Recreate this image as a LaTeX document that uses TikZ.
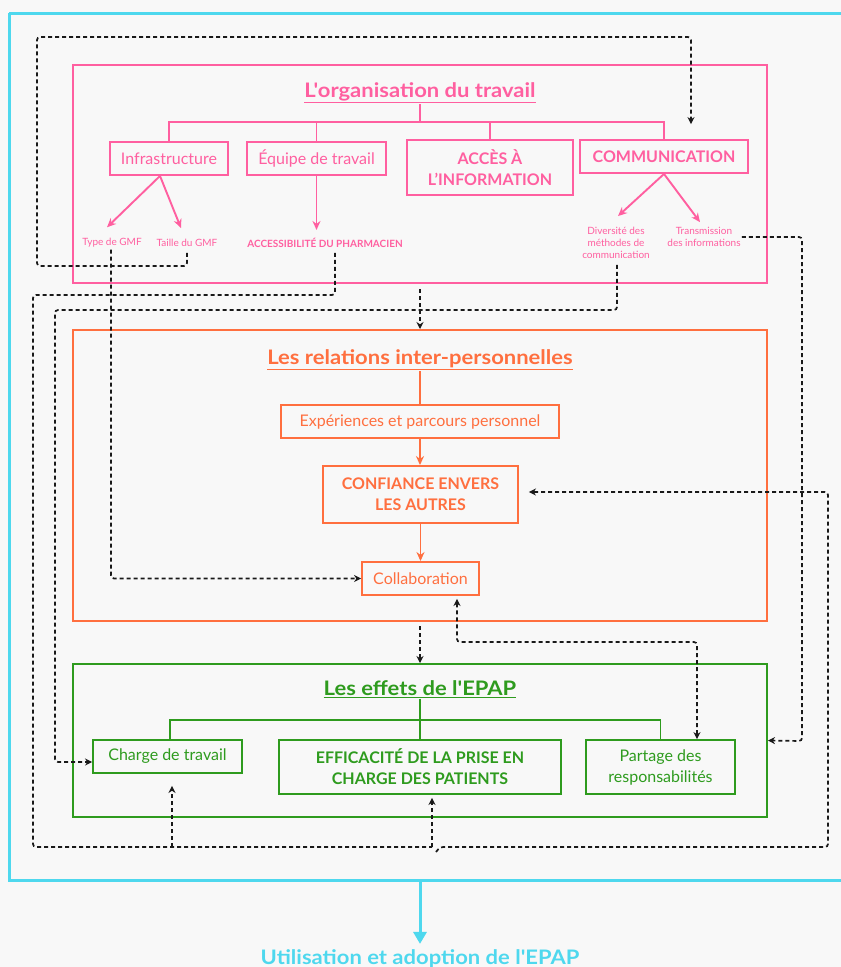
\documentclass[tikz,border=0pt]{standalone}
\usepackage{fontspec}
\setmainfont{Lato}
\newfontfamily\ttlfont[FakeStretch=1.1]{Lato}
\usetikzlibrary{arrows.meta,calc}
\definecolor{pinkc}{HTML}{FF5FA0}
\definecolor{orangec}{HTML}{FF6F3F}
\definecolor{greenc}{HTML}{2E9B1E}
\definecolor{cyanc}{HTML}{4ED8EE}
\definecolor{bgc}{HTML}{F8F8F8}
\tikzset{
  box/.style={draw, line width=1.9pt, inner sep=0pt, align=center, font=\fontsize{16}{21}\selectfont},
  bbox/.style={box, font=\fontsize{16}{21}\selectfont\bfseries},
  frame/.style={draw, line width=2pt, inner sep=0pt},
  ttl/.style={inner sep=1pt, font=\ttlfont\fontsize{20}{22}\selectfont\bfseries},
  small/.style={inner sep=1pt, align=center, font=\fontsize{10}{12}\selectfont},
  smallb/.style={inner sep=1pt, align=center, font=\fontsize{10}{12}\selectfont\bfseries},
  sline/.style={line width=1.9pt},
  sarrow/.style={line width=1.9pt, -{Stealth[length=9pt,width=8pt]}},
  dline/.style={draw=black!90, line width=1.7pt, dash pattern=on 4pt off 3pt, rounded corners=3pt},
  darrow/.style={dline, -{Stealth[length=7pt,width=7pt]}},
  dboth/.style={dline, {Stealth[length=7pt,width=7pt]}-{Stealth[length=7pt,width=7pt]}},
}
\begin{document}
\begin{tikzpicture}[x=1pt,y=-1pt]
\fill[bgc] (0,0) rectangle (841,967);
\useasboundingbox (0,0) rectangle (841,967);
% cyan frame
\draw[cyanc, line width=3pt] (9,13) -- (9,880) -- (860,880);
\draw[cyanc, line width=3pt] (9,13) -- (860,13);
\coordinate (cyanbottom) at (420,880);

% ---------- pink block ----------
\node[frame, draw=pinkc, minimum width=694pt, minimum height=218pt] (pinkbox) at (420,174) {};
\node[ttl, text=pinkc] (orgtitle) at (420,93) {\underline{L'organisation du travail}};
\node[box, draw=pinkc, text=pinkc, minimum width=118pt, minimum height=33pt] (infra) at (169,158.5) {Infrastructure};
\node[box, draw=pinkc, text=pinkc, minimum width=139pt, minimum height=33pt] (equipe) at (316.5,158.5) {Équipe de travail};
\node[bbox, draw=pinkc, text=pinkc, minimum width=166pt, minimum height=55pt] (acces) at (490,167.5) {ACCÈS À\\L'INFORMATION};
\node[bbox, draw=pinkc, text=pinkc, minimum width=168pt, minimum height=33pt] (comm) at (664,156.5) {COMMUNICATION};
\node[small, text=pinkc] (typegmf) at (112,243) {Type de GMF};
\node[small, text=pinkc] (taille) at (187,243) {Taille du GMF};
\node[smallb, text=pinkc] (pharm) at (325,243) {ACCESSIBILITÉ DU PHARMACIEN};
\node[small, text=pinkc] (divers) at (616,243) {Diversité des\\méthodes de\\communication};
\node[small, text=pinkc] (transm) at (704,237) {Transmission\\des informations};
\coordinate (orgbus) at (420,122);
\draw[sline, pinkc] (orgtitle.south) -- (orgbus);
\draw[sline, pinkc] (infra.north) -- (infra.north |- orgbus) -- (comm.north |- orgbus) -- (comm.north);
\draw[sline, pinkc] (equipe.north) -- (equipe.north |- orgbus);
\draw[sline, pinkc] (acces.north) -- (acces.north |- orgbus);
\draw[sarrow, pinkc] ($(infra.south)+(-9,0)$) -- ($(typegmf.north)+(-5,-10)$);
\draw[sarrow, pinkc] ($(infra.south)+(-9,0)$) -- ($(taille.north)+(-6,-10)$);
\draw[sarrow, pinkc] (equipe.south) -- ++(0,54);
\draw[sarrow, pinkc] (comm.south) -- ($(divers.north)+(2,-10)$);
\draw[sarrow, pinkc] (comm.south) -- ($(transm.north)+(-4,-4)$);

% ---------- orange block ----------
\node[frame, draw=orangec, minimum width=694pt, minimum height=291pt] (relbox) at (420,475.5) {};
\node[ttl, text=orangec] (reltitle) at (420,360) {\underline{Les relations inter-personnelles}};
\node[box, draw=orangec, text=orangec, minimum width=278pt, minimum height=33pt] (exper) at (420,421.5) {Expériences et parcours personnel};
\node[bbox, draw=orangec, text=orangec, minimum width=195pt, minimum height=57pt] (confiance) at (420.5,494.5) {CONFIANCE ENVERS\\LES AUTRES};
\node[box, draw=orangec, text=orangec, minimum width=117pt, minimum height=33pt] (collab) at (420.5,578.5) {Collaboration};
\draw[sline, orangec] (reltitle.south) -- (exper.north);
\draw[sarrow, orangec] (exper.south) -- (exper.south |- confiance.north);
\draw[sarrow, orangec] (confiance.south) -- (confiance.south |- collab.north);

% ---------- green block ----------
\node[frame, draw=greenc, minimum width=694pt, minimum height=153pt] (effbox) at (420,740.5) {};
\node[ttl, text=greenc] (efftitle) at (420,689) {\underline{Les effets de l'EPAP}};
\node[box, draw=greenc, text=greenc, minimum width=149pt, minimum height=33pt] (charge) at (167.5,756.5) {Charge de travail};
\node[bbox, draw=greenc, text=greenc, minimum width=282pt, minimum height=54pt] (effic) at (420,767) {EFFICACITÉ DE LA PRISE EN\\CHARGE DES PATIENTS};
\node[box, draw=greenc, text=greenc, minimum width=149pt, minimum height=54pt] (partage) at (660.5,767) {Partage des\\responsabilités};
\coordinate (effbus) at (420,720);
\draw[sline, greenc] (efftitle.south) -- (effbus);
\draw[sline, greenc] ($(charge.north)+(2.5,0)$) -- ($(charge.north |- effbus)+(2.5,0)$) -- (partage.north |- effbus) -- (partage.north);
\draw[sline, greenc] (effic.north) -- (effic.north |- effbus);

% ---------- output ----------
\node[inner sep=0pt, anchor=base, text=cyanc, font=\ttlfont\fontsize{20}{22}\selectfont\bfseries] (usage) at (420,964) {Utilisation et adoption de l'EPAP};
\draw[cyanc, line width=3pt, -{Triangle[length=12pt,width=13pt]}] (cyanbottom) -- ($(usage.north)+(0,-5)$);

% ---------- dashed connectors ----------
\draw[darrow] ($(taille.south)+(0,5)$) -- (187,266) -- (37,266) -- (37,37) -- (691,37) -- ($(comm.north)+(27,-15)$);
\draw[darrow] ($(typegmf.south)+(-1,1)$) -- ($(typegmf.south |- collab.west)+(-1,0)$) -- (collab.west);
\draw[dline] ($(pharm.south)+(10,4)$) -- (335,295) -- (33,295) -- (33,847) -- (432,847);
\draw[darrow] (172,847) -- ($(charge.south)+(4.5,12)$);
\draw[darrow] (432,847) -- ($(effic.south)+(12,3)$);
\draw[darrow] ($(divers.south)+(1,5)$) -- (617,310) -- (55,310) -- (55,762) -- ([yshift=-5.5pt]charge.west);
\draw[darrow] (transm.east) -- (802,237) -- (802,741) -- (effbox.east);
\draw[darrow] (436,852) -- (440,847) -- (828,847) -- (828,492) -- ($(confiance.east)+(10,-2.5)$);
\draw[dboth] ($(collab.south)+(36.5,3)$) -- (457,642) -- (697,642) -- ($(partage.north)+(36.5,0)$);
\draw[darrow] ($(pinkbox.south)+(0,5)$) -- (relbox.north);
\draw[darrow] ($(relbox.south)+(0,4)$) -- (effbox.north);
\end{tikzpicture}
\end{document}
